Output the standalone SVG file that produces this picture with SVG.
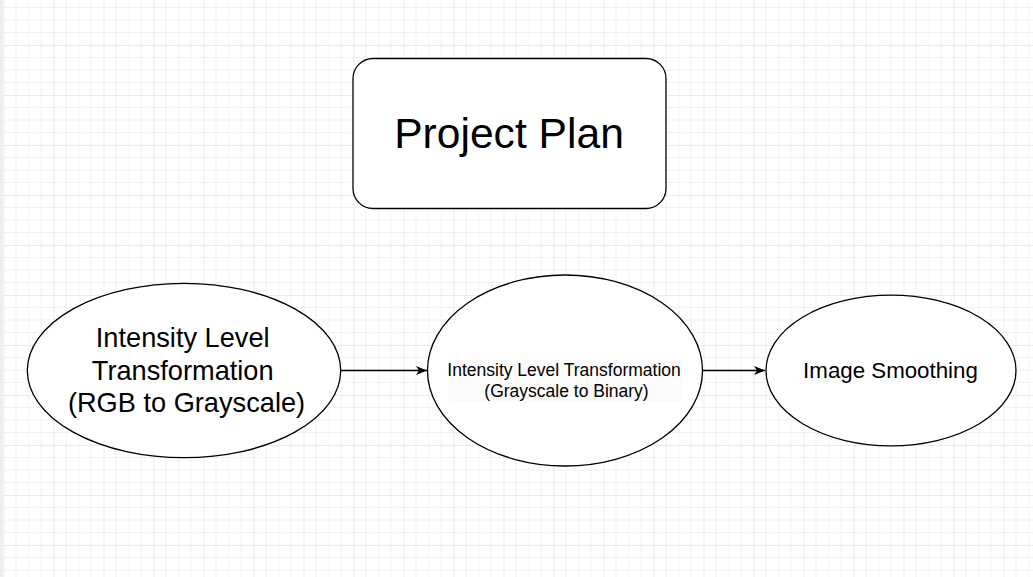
<svg xmlns="http://www.w3.org/2000/svg" width="1033" height="577" viewBox="0 0 1033 577">
  <style>
    .shape { fill: #ffffff; stroke: #000000; stroke-width: 1.3; }
    .lbl { font-family: "Liberation Sans", Arial, sans-serif; fill: #000000; text-anchor: middle; }
    .edge { stroke: #000000; stroke-width: 1.3; fill: none; }
  </style>
  <defs>
    <pattern id="grid" patternUnits="userSpaceOnUse" x="3.5" y="-5" width="50" height="50">
      <path d="M12.5,0V50M25,0V50M37.5,0V50M0,12.5H50M0,25H50M0,37.5H50" stroke="#f0f0f0" stroke-width="1" fill="none"/>
      <path d="M0,0V50M0,0H50" stroke="#d9d9d9" stroke-width="1" fill="none"/>
    </pattern>
    <marker id="arrow" markerUnits="userSpaceOnUse" markerWidth="14" markerHeight="12" refX="11" refY="4.5" orient="auto">
      <path d="M0,0 L11,4.5 L0,9 L3,4.5 Z" fill="#000000"/>
    </marker>
  </defs>

  <rect x="0" y="0" width="1033" height="577" fill="#ffffff"/>
  <rect x="0" y="0" width="1033" height="577" fill="url(#grid)"/>
  <rect x="0" y="0" width="3" height="577" fill="#eeeeee"/>

  <g id="connectors">
    <path class="edge" d="M341,370.5 H427" marker-end="url(#arrow)"/>
    <path class="edge" d="M703,370.5 H765" marker-end="url(#arrow)"/>
  </g>

  <g id="project-plan">
    <rect class="shape" x="353" y="58.5" width="313" height="150" rx="20" ry="20"/>
    <text class="lbl" x="509" y="148" font-size="42.6">Project Plan</text>
  </g>

  <g id="rgb-to-grayscale">
    <ellipse class="shape" cx="184" cy="370.5" rx="156.7" ry="87.2"/>
    <text class="lbl" font-size="27.2">
      <tspan x="186.5" y="347">Intensity Level</tspan>
      <tspan x="186.5" y="380">Transformation</tspan>
      <tspan x="186.5" y="412">(RGB to Grayscale)</tspan>
    </text>
  </g>

  <g id="grayscale-to-binary">
    <ellipse class="shape" cx="565" cy="370.5" rx="137.5" ry="95.5"/>
    <rect x="448.5" y="359" width="233.5" height="43" fill="#fbfbfb"/>
    <text class="lbl" font-size="17.5" fill="#111111">
      <tspan x="566.5" y="376">Intensity Level Transformation</tspan>
      <tspan x="566.5" y="397">(Grayscale to Binary)</tspan>
    </text>
  </g>

  <g id="image-smoothing">
    <ellipse class="shape" cx="891" cy="370.5" rx="125" ry="75.3"/>
    <text class="lbl" x="890.5" y="377.5" font-size="22.3">Image Smoothing</text>
  </g>
</svg>
